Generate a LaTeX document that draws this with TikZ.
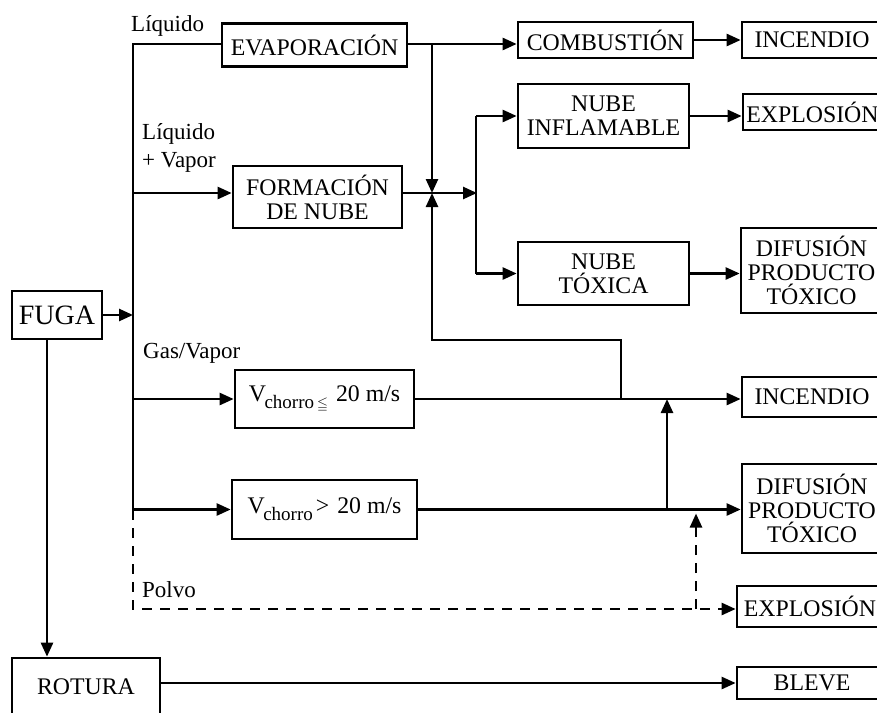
\documentclass[tikz,border=0pt]{standalone}
\usepackage{fontspec}
\usepackage{amssymb}
\setmainfont{Liberation Serif}
\usetikzlibrary{arrows.meta,calc}
\begin{document}
\begin{tikzpicture}[x=1pt,y=-1pt,
  box/.style={draw,line width=2.7pt,inner sep=0pt,align=center,font=\fontsize{23.8}{24}\selectfont},
  lbl/.style={inner sep=0pt,anchor=base west,font=\fontsize{23}{28}\selectfont},
  ln/.style={line width=2.5pt},
  arr/.style={ln,-{Triangle[length=14pt,width=12pt]}},
  dsh/.style={ln,dash pattern=on 10pt off 8pt},
  dsharr/.style={dsh,-{Triangle[length=14pt,width=12pt]}},
]
\useasboundingbox (0,0) rectangle (877,712);
% boxes
\node[box,minimum width=90pt,minimum height=48pt,font=\fontsize{28}{30}\selectfont] (fuga) at (57,315) {FUGA};
\node[box,minimum width=185pt,minimum height=43pt] (evap) at (314.5,45) {EVAPORACIÓN};
\node[box,minimum width=175pt,minimum height=36pt] (comb) at (605.5,40) {COMBUSTIÓN};
\node[box,minimum width=140pt,minimum height=36pt] (inc1) at (812,40) {INCENDIO};
\node[box,minimum width=169pt,minimum height=62pt] (form) at (317.5,197) {FORMACIÓN\\DE NUBE};
\node[box,minimum width=171pt,minimum height=64pt] (ninf) at (603.5,116) {NUBE\\INFLAMABLE};
\node[box,minimum width=171pt,minimum height=63pt] (ntox) at (603.5,273.5) {NUBE\\TÓXICA};
\node[box,minimum width=139pt,minimum height=36pt] (expl1) at (812.5,112) {EXPLOSIÓN};
\node[box,minimum width=141pt,minimum height=85pt] (dif1) at (811.5,270.5) {DIFUSIÓN\\PRODUCTO\\TÓXICO};
\node[box,minimum width=179pt,minimum height=58pt] (vle) at (324.5,399) {V\kern-1.5pt\raisebox{-7pt}{\fontsize{19}{19}\selectfont chorro}\kern3pt\raisebox{-7pt}{\fontsize{14}{14}\selectfont$\leqq$}\kern8pt20 m/s};
\node[box,minimum width=185pt,minimum height=59pt] (vgt) at (324.5,509.5) {V\kern-1.5pt\raisebox{-7pt}{\fontsize{19}{19}\selectfont chorro}\kern3pt>\kern8pt20 m/s};
\node[box,minimum width=140pt,minimum height=40pt] (inc2) at (812,397) {INCENDIO};
\node[box,minimum width=140pt,minimum height=89pt] (dif2) at (812,508.5) {DIFUSIÓN\\PRODUCTO\\TÓXICO};
\node[box,minimum width=146pt,minimum height=41pt] (expl2) at (810,606.5) {EXPLOSIÓN};
\node[box,minimum width=148pt,minimum height=58pt] (rot) at (86,687) {ROTURA};
\node[box,minimum width=150pt,minimum height=32pt] (blev) at (812,683) {BLEVE};
% labels
\node[lbl] (l1) at (131,31) {Líquido};
\node[lbl] (l2a) at (142,139) {Líquido};
\node[lbl] (l2b) at (142,167) {+ Vapor};
\node[lbl] (l3) at (143,358) {Gas/Vapor};
\node[lbl] (l4) at (142,597) {Polvo};
% coordinates
\coordinate (bustop) at (133,44);
\coordinate (busbot) at (133,510);
\coordinate (dashbot) at (133,609);
\coordinate (fy) at (133,193);
\coordinate (xv) at (432,193);
\coordinate (nv) at (477,193);
\coordinate (lp) at (621,340);
\coordinate (up1) at (667,399);
\coordinate (dv) at (696,609);
\coordinate (fd) at ($(fuga.south)+(-10,0)$);
% connectors
\draw[ln] (busbot) -- (bustop) -- (bustop -| evap.west);
\draw[arr] (fuga.east) -- (fuga.east -| bustop);
\draw[arr] (bustop -| evap.east) -- (bustop -| comb.west);
\draw[arr] (bustop -| xv) -- (xv);
\draw[arr] (comb.east) -- (inc1.west);
\draw[arr] (fy) -- (fy -| form.west);
\draw[arr] (fy -| form.east) -- (nv);
\draw[ln] ($(nv |- ninf.west)+(-1,0)$) -- ($(nv |- ntox.west)+(-1,0)$);
\draw[arr] ($(nv |- ninf.west)+(-1,0)$) -- (ninf.west);
\draw[arr] ($(nv |- ntox.west)+(-1,0)$) -- (ntox.west);
\draw[arr] (ninf.east) -- (ninf.east -| expl1.west);
\draw[arr] (ntox.east) -- (ntox.east -| dif1.west);
\draw[arr] (vle.west -| bustop) -- (vle.west);
\draw[arr] (vle.east) -- (vle.east -| inc2.west);
\draw[arr] (vle.east -| lp) -- (lp) -- (lp -| xv) -- (xv);
\draw[arr] (vgt.west -| bustop) -- (vgt.west);
\draw[arr] (vgt.east) -- (vgt.east -| dif2.west);
\draw[arr] (vgt.east -| up1) -- (up1);
\draw[dsharr] (busbot) -- (dashbot) -- (dashbot -| expl2.west);
\draw[dsharr] (dv) -- ($(vgt.east -| dv)+(0,4)$);
\draw[arr] (fd) -- (fd |- rot.north);
\draw[arr] (rot.east |- blev.west) -- (blev.west);
\end{tikzpicture}
\end{document}
